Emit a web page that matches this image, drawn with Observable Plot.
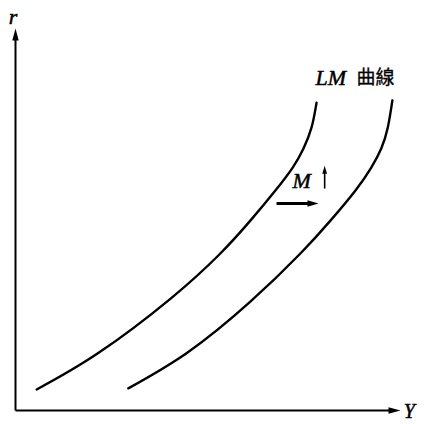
<!DOCTYPE html>
<html><head><meta charset="utf-8">
<script src="https://cdn.jsdelivr.net/npm/d3@7"></script>
<script src="https://cdn.jsdelivr.net/npm/@observablehq/plot@0.6"></script>
<style>body{margin:0;background:#fff}#chart{width:430px;height:424px}</style>
</head><body><div id="chart"></div>
<script>
// LM curve before the money supply increase (Y, r)
const lm1Y_ = [5.5, 21.3, 40.3, 53.2, 61.0, 67.5, 72.0, 74.8, 76.9, 78.2];
const lm1R = [5.5, 14.9, 29.3, 41.1, 49.7, 57.6, 63.6, 68.6, 74.1, 80.6];
// LM curve after M rises (shifted right)
const lm2Y_ = [29.3, 44.7, 61.0, 74.0, 81.8, 88.3, 92.4, 95.0, 96.7, 97.9];
const lm2R = [5.8, 15.2, 28.5, 41.1, 49.7, 57.6, 63.6, 68.6, 74.1, 81.2];
const curveNames = ["LM1", "LM2"];
const axisLabels = ["r", "Y"];
const curveLabel = ["LM", "曲線"];
const shiftLabel = "M";

const curves = [
  ...lm1Y_.map((y, i) => ({name: curveNames[0], Y: y, r: lm1R[i]})),
  ...lm2Y_.map((y, i) => ({name: curveNames[1], Y: y, r: lm2R[i]}))
];

// filled, narrow arrowhead whose tip sits at the anchor, pointing up
const head = (ratio) => ({
  draw(ctx, size) {
    const L = Math.sqrt(size / Math.PI);
    ctx.moveTo(0, 0);
    ctx.lineTo(ratio * L, L);
    ctx.lineTo(-ratio * L, L);
    ctx.closePath();
  }
});

const serif = "'Liberation Serif', 'DejaVu Serif', serif";
const textStyle = {fill: "#000", stroke: "#000", strokeWidth: 0.5, lineAnchor: "middle"};

const chart = Plot.plot({
  width: 430,
  height: 424,
  marginLeft: 15,
  marginRight: 30,
  marginTop: 28,
  marginBottom: 14,
  x: {domain: [0, 100], axis: null},
  y: {domain: [0, 100], axis: null},
  marks: [
    // axes
    Plot.link([0], {x1: 0, y1: 0, x2: 0, y2: 97, stroke: "#000", strokeWidth: 2}),
    Plot.link([0], {x1: 0, y1: 0, x2: 97.5, y2: 0, stroke: "#000", strokeWidth: 2}),
    Plot.dot([0], {x: 0, y: 100, r: 12, symbol: head(0.27), fill: "#000", stroke: "none"}),
    Plot.dot([0], {x: 100, y: 0, r: 12, symbol: head(0.27), fill: "#000", stroke: "none", rotate: 90}),
    // curves
    Plot.line(curves, {x: "Y", y: "r", z: "name", curve: "natural", stroke: "#000", strokeWidth: 2.4}),
    // shift arrow
    Plot.link([0], {x1: 67.8, y1: 54.2, x2: 76.5, y2: 54.2, stroke: "#000", strokeWidth: 3}),
    Plot.dot([0], {x: 78.7, y: 54.2, r: 11, symbol: head(0.3), fill: "#000", stroke: "none", rotate: 90}),
    // M up arrow
    Plot.link([0], {x1: 80.3, y1: 58.1, x2: 80.3, y2: 62.5, stroke: "#000", strokeWidth: 1.6}),
    Plot.dot([0], {x: 80.3, y: 64.1, r: 8, symbol: head(0.3), fill: "#000", stroke: "none"}),
    // labels
    Plot.text([axisLabels[0]], {x: -0.65, y: 103.1, text: d => d, fontFamily: serif, fontStyle: "italic", fontSize: 22, textAnchor: "middle", ...textStyle}),
    Plot.text([axisLabels[1]], {x: 102.3, y: -0.4, text: d => d, fontFamily: serif, fontStyle: "italic", fontSize: 20, textAnchor: "middle", ...textStyle}),
    Plot.text([curveLabel[0]], {x: 77.9, y: 87.0, text: d => d, fontFamily: serif, fontStyle: "italic", fontSize: 22, textAnchor: "start", ...textStyle}),
    Plot.text([curveLabel[1]], {x: 88.6, y: 87.0, text: d => d, fontFamily: "'Noto Sans CJK TC', 'Noto Sans CJK JP', sans-serif", fontSize: 19, textAnchor: "start", ...textStyle, strokeWidth: 0.3}),
    Plot.text([shiftLabel], {x: 74.3, y: 60.2, text: d => d, fontFamily: serif, fontStyle: "italic", fontSize: 22, textAnchor: "middle", ...textStyle})
  ]
});
document.getElementById("chart").append(chart);
</script>
</body></html>
